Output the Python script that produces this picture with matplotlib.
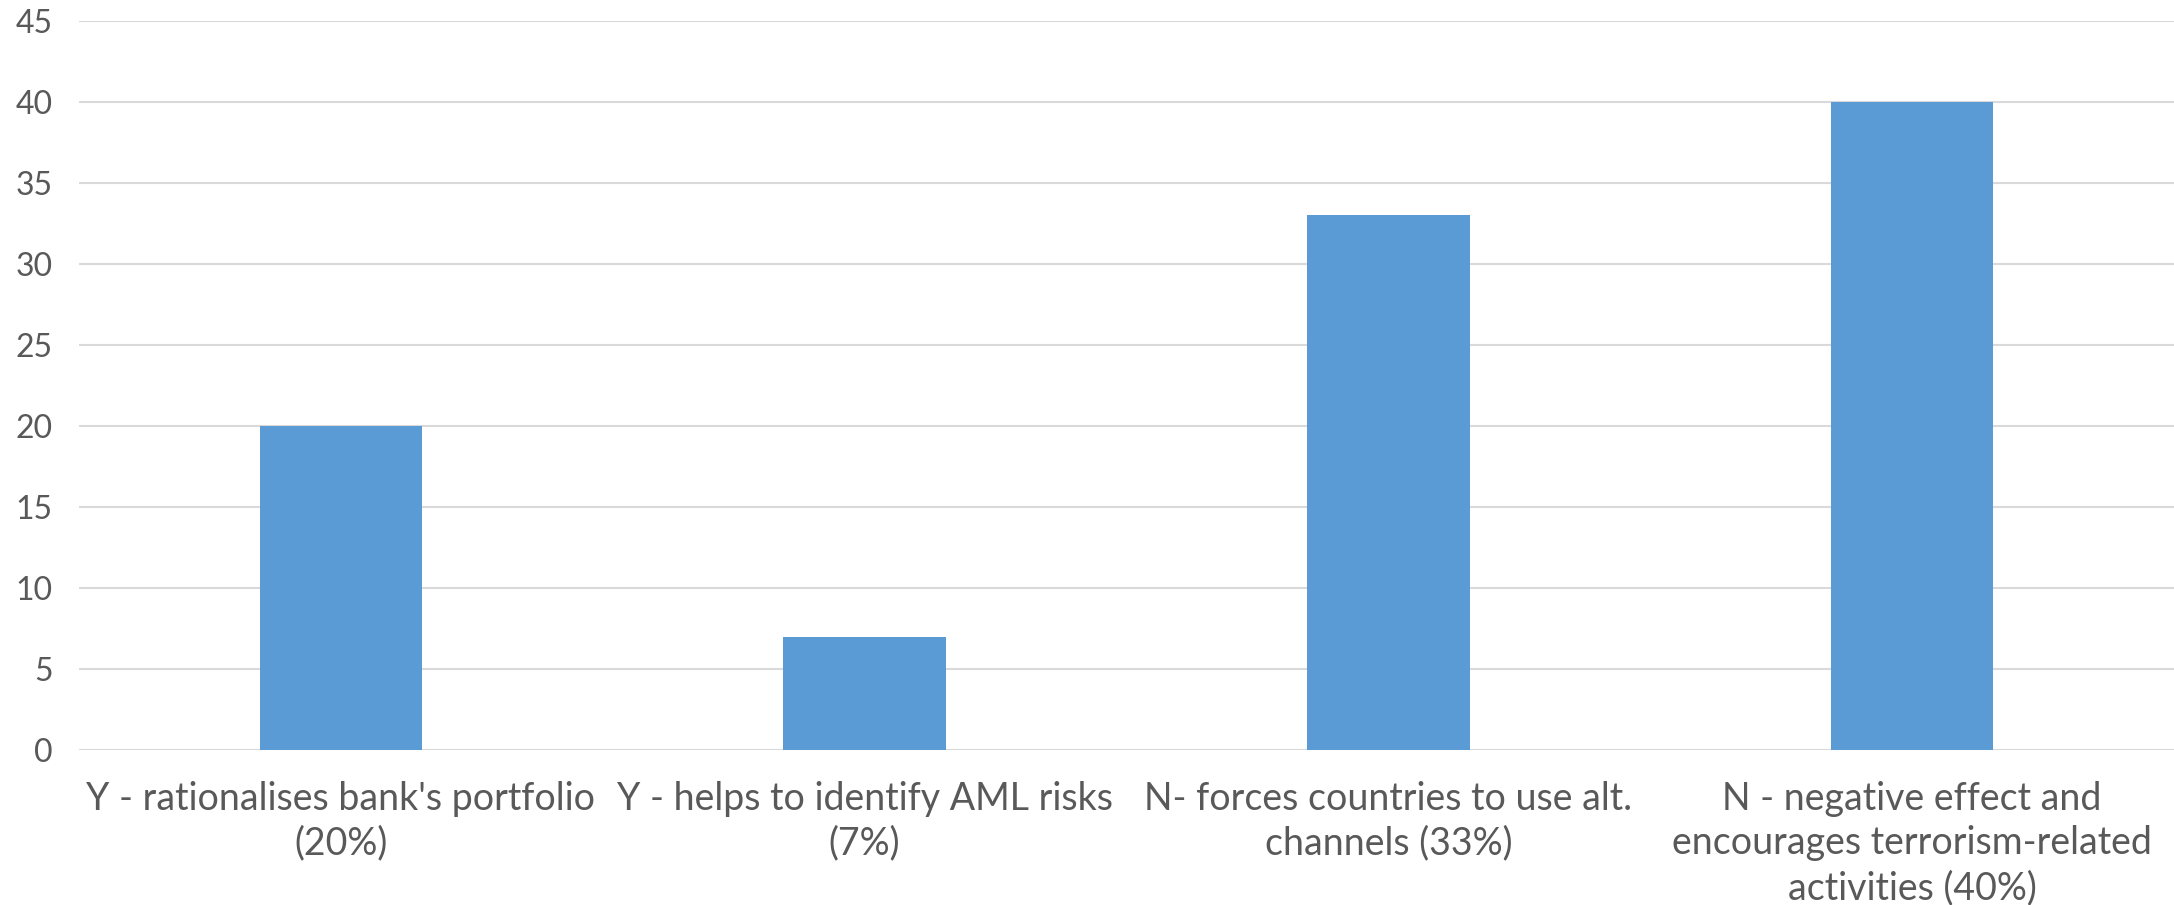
import matplotlib
matplotlib.use("Agg")
import matplotlib.pyplot as plt

categories = [
    "Y - rationalises bank's portfolio\n(20%)",
    "Y - helps to identify AML risks\n(7%)",
    "N- forces countries to use alt.\nchannels (33%)",
    "N - negative effect and\nencourages terrorism-related\nactivities (40%)",
]
values = [20, 7, 33, 40]
yticks = [0, 5, 10, 15, 20, 25, 30, 35, 40, 45]

plt.rcParams['font.family'] = ['Lato', 'DejaVu Sans']
text_color = '#595959'

fig = plt.figure(figsize=(21.74, 9.05), dpi=100)
ax = fig.add_axes([79 / 2174, 1 - 750 / 905, 1 - 79 / 2174, (750 - 20.8) / 905])

x = range(len(values))
ax.bar(x, values, width=0.31, color='#5B9BD5', zorder=3)

ax.set_xlim(-0.5, len(values) - 0.5)
ax.set_ylim(0, 45)
ax.set_yticks(yticks)
ax.set_xticks(list(x))
ax.set_xticklabels(categories, fontsize=27, color=text_color, linespacing=1.3)
ax.tick_params(axis='y', labelsize=23, labelcolor=text_color, length=0, pad=19)
ax.tick_params(axis='x', length=0, pad=22)

ax.grid(axis='y', color='#D9D9D9', linewidth=1.5, zorder=0)
for s in ax.spines.values():
    s.set_visible(False)

fig.savefig("out.png", dpi=100)
